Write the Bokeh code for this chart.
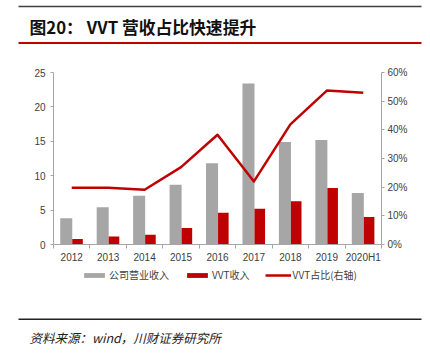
from bokeh.plotting import figure
from bokeh.models import (ColumnDataSource, Range1d, LinearAxis, FixedTicker,
                          PrintfTickFormatter, Legend, LegendItem, Label)
from bokeh.transform import dodge
from bokeh.embed import file_html
from bokeh.resources import INLINE

# ---- data ----
categories = ["2012", "2013", "2014", "2015", "2016", "2017", "2018", "2019", "2020H1"]
revenue = [3.8, 5.4, 7.1, 8.7, 11.8, 23.4, 14.9, 15.2, 7.5]
vvt_revenue = [0.8, 1.15, 1.4, 2.4, 4.6, 5.2, 6.3, 8.2, 4.0]
vvt_share = [19.8, 19.8, 19.1, 27.0, 38.3, 22.0, 41.9, 53.7, 52.9]
left_ticks = [0, 5, 10, 15, 20, 25]
right_ticks = [0, 10, 20, 30, 40, 50, 60]
series_names = ["公司营业收入", "VVT收入", "VVT占比(右轴)"]
title_text = "图20： VVT 营收占比快速提升"
source_text = "资料来源：wind，川财证券研究所"

# ---- layout (pixels) ----
W, H = 430, 357
FL, FR, FT, FB = 53, 381, 72, 244   # plot area box

GRAY = "#A6A6A6"
RED = "#C00000"
TXT = "#404040"
AX = "#A6A6A6"
CJK = "Noto Sans CJK SC"
LAT = "Liberation Sans"

n = len(categories)
xs = list(range(1, n + 1))
lmax, rmax = left_ticks[-1], right_ticks[-1]

ppx = (FR - FL) / n
ppy = (FB - FT) / lmax
ppr = (FB - FT) / rmax

p = figure(width=W, height=H, output_backend="svg", toolbar_location=None,
           x_range=Range1d(0.5 - FL / ppx, n + 0.5 + (W - FR) / ppx),
           y_range=Range1d(-(H - FB) / ppy, lmax + FT / ppy),
           x_axis_type=None, y_axis_type=None, min_border=0)
p.outline_line_color = None
p.background_fill_color = "white"
p.border_fill_color = "white"
p.extra_y_ranges = {"pct": Range1d(-(H - FB) / ppr, rmax + FT / ppr),
                    "px": Range1d(H, 0)}
p.extra_x_ranges = {"px": Range1d(0, W)}

src = ColumnDataSource(dict(x=xs, rev=revenue, vvt=vvt_revenue, share=vvt_share))

g1 = p.vbar(x=dodge("x", -0.15), top="rev", width=0.33, source=src,
            fill_color=GRAY, line_color=None)
g2 = p.vbar(x=dodge("x", 0.16), top="vvt", width=0.29, source=src,
            fill_color=RED, line_color=None)
g3 = p.line(x="x", y="share", source=src, y_range_name="pct",
            line_color=RED, line_width=2.5, line_join="round")

# axes drawn at fixed positions
xaxis = LinearAxis(ticker=FixedTicker(ticks=xs, minor_ticks=[i + 0.5 for i in range(n + 1)]),
                   major_label_overrides={x: c for x, c in zip(xs, categories)},
                   fixed_location=0, bounds=(0.5, n + 0.5))
xaxis.major_tick_in = 0
xaxis.major_tick_out = 0
xaxis.minor_tick_in = 0
xaxis.minor_tick_out = 4
xaxis.minor_tick_line_color = AX
xaxis.axis_line_color = AX
xaxis.major_label_standoff = 3
xaxis.major_label_text_font = LAT
xaxis.major_label_text_font_size = "10px"
xaxis.major_label_text_color = TXT
p.add_layout(xaxis, "below")

yl = LinearAxis(ticker=FixedTicker(ticks=left_ticks), fixed_location=0.5,
                bounds=(left_ticks[0], lmax))
yr = LinearAxis(ticker=FixedTicker(ticks=right_ticks), y_range_name="pct",
                formatter=PrintfTickFormatter(format="%d%%"),
                fixed_location=n + 0.5, bounds=(right_ticks[0], rmax))
for ax in (yl, yr):
    ax.major_tick_in = 0
    ax.major_tick_out = 3
    ax.minor_tick_line_color = None
    ax.major_tick_line_color = AX
    ax.axis_line_color = AX
    ax.major_label_text_font = LAT
    ax.major_label_text_font_size = "10px"
    ax.major_label_text_color = TXT
yl.major_label_standoff = 5
yr.major_label_standoff = 3
p.add_layout(yl, "left")
p.add_layout(yr, "right")

legend = Legend(items=[LegendItem(label=series_names[0], renderers=[g1]),
                       LegendItem(label=series_names[1], renderers=[g2]),
                       LegendItem(label=series_names[2], renderers=[g3])],
                orientation="horizontal", location=(81, 75))
legend.label_text_font = CJK
legend.label_text_font_size = "10px"
legend.label_text_color = TXT
legend.glyph_width = 26
legend.glyph_height = 6
legend.label_height = 12
legend.label_standoff = 2
legend.spacing = 15
legend.padding = 2
legend.margin = 0
legend.border_line_color = None
legend.background_fill_alpha = 0
p.add_layout(legend, "center")

# ---- header / footer decorations (pixel coordinates) ----
p.segment(x0=[18], y0=[6], x1=[421], y1=[6], line_color="#404040", line_width=1.5,
          x_range_name="px", y_range_name="px")
p.segment(x0=[18], y0=[42.5], x1=[421], y1=[42.5], line_color=RED, line_width=1.8,
          x_range_name="px", y_range_name="px")
p.segment(x0=[18], y0=[318.7], x1=[421], y1=[318.7], line_color="#222222", line_width=1.5,
          x_range_name="px", y_range_name="px")
p.add_layout(Label(x=29, y=26, text=title_text, text_baseline="middle",
                   x_range_name="px", y_range_name="px",
                   text_font=CJK, text_font_style="bold",
                   text_font_size="16.8px", text_color="#111111"))
p.add_layout(Label(x=29, y=337, text=source_text, text_baseline="middle",
                   x_range_name="px", y_range_name="px",
                   text_font=CJK, text_font_style="italic",
                   text_font_size="12.5px", text_color="#222222"))

open("out.html", "w").write(file_html(p, INLINE))
